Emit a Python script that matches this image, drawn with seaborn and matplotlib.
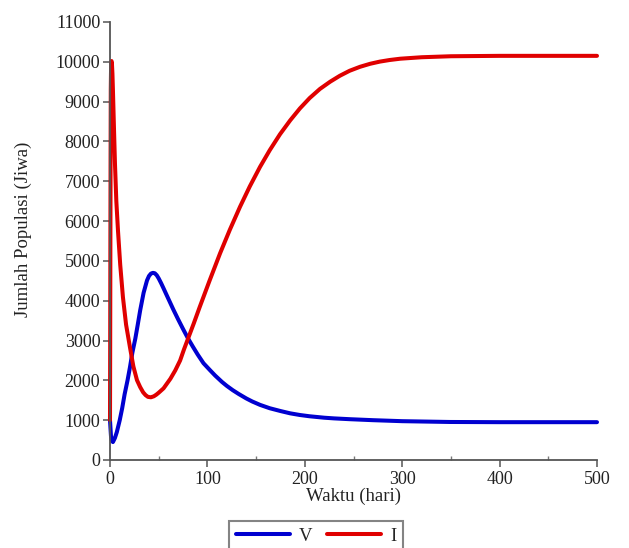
import numpy as np
import pandas as pd
import matplotlib
matplotlib.use("Agg")
import matplotlib.pyplot as plt
import seaborn as sns

# Time (days) and population for the two compartments
t_v = [0, 1, 2, 3, 5, 7, 10, 12.5, 15, 18, 20.5, 23, 26, 28.5, 31, 34.5, 38,
       40, 42, 44, 46, 48, 50, 52.5, 55, 58, 61.6, 65, 70, 75, 80, 85, 90, 96,
       102.7, 108, 115, 120, 126, 132, 140, 146, 154, 164, 175, 185, 195, 205,
       220, 230, 246, 270, 300, 349, 400, 500]
v_vals = [1000, 600, 480, 450, 550, 700, 1000, 1300, 1650, 2000, 2330, 2700,
          3050, 3400, 3760, 4200, 4510, 4620, 4680, 4700, 4690, 4640, 4560,
          4440, 4310, 4150, 3960, 3780, 3530, 3290, 3058, 2850, 2650, 2430,
          2255, 2120, 1960, 1860, 1754, 1660, 1545, 1470, 1385, 1300, 1230,
          1172, 1130, 1098, 1062, 1045, 1025, 1000, 975, 955, 950, 950]

t_i = [0, 0.2, 0.4, 0.6, 0.8, 1.0, 1.3, 1.6, 2, 2.5, 3, 4, 5.1, 6.5, 8.2,
       10.5, 13.3, 16.5, 20.5, 24, 27.7, 31, 34, 36.5, 39, 42, 45, 47.5, 50,
       55, 62, 67, 72, 76, 80, 86, 92, 102, 113, 123, 133.5, 143.5, 154, 164,
       174.5, 185, 195, 205, 215.6, 226, 236, 246, 256.7, 267, 277, 287, 298,
       320, 350, 400, 500]
i_vals = [1000, 3000, 5500, 7600, 9300, 9700, 10000, 10020, 9950, 9700, 9300,
          8400, 7440, 6500, 5760, 4900, 4085, 3400, 2830, 2350, 2005, 1830,
          1700, 1630, 1585, 1575, 1600, 1640, 1690, 1800, 2040, 2250, 2500,
          2780, 3040, 3430, 3835, 4490, 5190, 5780, 6360, 6870, 7360, 7780,
          8180, 8530, 8830, 9090, 9320, 9500, 9650, 9775, 9875, 9950, 10005,
          10045, 10078, 10115, 10140, 10150, 10150]

series_names = ["V", "I"]
colors = {"V": "#0000d0", "I": "#e00000"}

x_ticks = [0, 100, 200, 300, 400, 500]
y_ticks = list(range(0, 11001, 1000))

df = pd.concat([
    pd.DataFrame({"Waktu": t_v, "Jumlah": v_vals, "Kompartemen": "V"}),
    pd.DataFrame({"Waktu": t_i, "Jumlah": i_vals, "Kompartemen": "I"}),
], ignore_index=True)

sns.set_style("white")
plt.rcParams["font.family"] = ["Liberation Serif", "DejaVu Serif"]

fig = plt.figure(figsize=(6.29, 5.48), dpi=100)
ax = fig.add_axes([110 / 629, 1 - 460 / 548, 487 / 629, 438 / 548])

sns.lineplot(data=df, x="Waktu", y="Jumlah", hue="Kompartemen",
             hue_order=series_names, palette=colors, estimator=None,
             sort=False, linewidth=2.9, ax=ax, clip_on=False)
for line in ax.get_lines():
    line.set_solid_joinstyle("round")
    line.set_solid_capstyle("round")

ax.set_xlim(0, 500)
ax.set_ylim(0, 11000)
ax.set_xticks(x_ticks)
ax.set_xticks([50, 150, 250, 350, 450], minor=True)
ax.set_yticks(y_ticks)

for side in ("top", "right"):
    ax.spines[side].set_visible(False)
for side in ("left", "bottom"):
    ax.spines[side].set_color("#555555")
    ax.spines[side].set_linewidth(1.3)

ax.tick_params(axis="both", which="both", bottom=True, left=True)
ax.tick_params(axis="both", which="major", direction="out", length=5,
               width=1.1, color="#555555", labelsize=13, pad=2,
               labelcolor="#222222")
ax.tick_params(axis="x", which="minor", direction="in", length=3,
               width=1.0, color="#777777")
ax.tick_params(axis="x", which="major", pad=3)

ax.set_xlabel("Waktu (hari)", fontsize=13.5, color="#222222")
ax.set_ylabel("Jumlah Populasi (Jiwa)", fontsize=13.5, color="#222222")
ax.xaxis.set_label_coords(0.499, -0.064)
ax.yaxis.set_label_coords(-0.16, 0.527)

handles, labels = ax.get_legend_handles_labels()
ax.legend(handles=handles, labels=labels, ncol=2, loc="upper center",
          bbox_to_anchor=(316 / 629, 1 - 521 / 548),
          bbox_transform=fig.transFigure, frameon=True, fancybox=False,
          edgecolor="#666666", fontsize=13.5, handlelength=2.9,
          handletextpad=0.45, columnspacing=0.8, borderpad=0.35,
          borderaxespad=0)
leg = ax.get_legend()
leg.get_frame().set_linewidth(1.5)
for line in leg.get_lines():
    line.set_linewidth(2.9)

fig.savefig("out.png", dpi=100, facecolor="white")
